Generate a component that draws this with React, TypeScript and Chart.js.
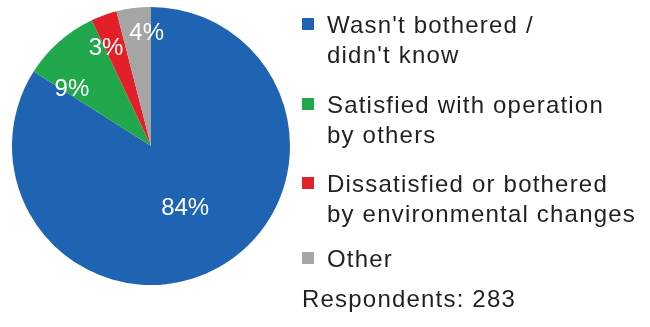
import React, { useEffect, useRef } from "react";
import { Chart, registerables } from "chart.js";

Chart.register(...registerables);

const categories = [
  "Wasn't bothered / didn't know",
  "Satisfied with operation by others",
  "Dissatisfied or bothered by environmental changes",
  "Other",
];
const legendLines = [
  ["Wasn't bothered /", "didn't know"],
  ["Satisfied with operation", "by others"],
  ["Dissatisfied or bothered", "by environmental changes"],
  ["Other"],
];
const values = [84, 9, 3, 4];
const valueLabels = ["84%", "9%", "3%", "4%"];
const footnote = "Respondents: 283";
const colors = ["#1E64B2", "#22A84C", "#E3202A", "#A5A5A5"];

// label placement (fraction of radius, angular shift in degrees)
const labelRadius = [0.51, 0.7, 0.77, 0.81];
const labelShift = [0, -13, -5, 5];

const TEXT_FONT = "24px 'Liberation Sans', Arial, sans-serif";

const labelsPlugin = {
  id: "sliceLabels",
  afterDatasetsDraw(chart: any) {
    const ctx = chart.ctx;
    const meta = chart.getDatasetMeta(0);
    ctx.save();
    ctx.fillStyle = "#FFFFFF";
    ctx.font = "24px 'Liberation Sans', Arial, sans-serif";
    ctx.textAlign = "center";
    ctx.textBaseline = "middle";
    meta.data.forEach((arc: any, i: number) => {
      const p = arc.getProps(["x", "y", "startAngle", "endAngle", "outerRadius"], true);
      const mid = (p.startAngle + p.endAngle) / 2 + (labelShift[i] * Math.PI) / 180;
      const r = p.outerRadius * labelRadius[i];
      ctx.fillText(valueLabels[i], p.x + Math.cos(mid) * r, p.y + Math.sin(mid) * r);
    });
    ctx.restore();
  },
};

const legendPlugin = {
  id: "sideLegend",
  afterDraw(chart: any) {
    const ctx = chart.ctx;
    const ds = chart.data.datasets[0];
    ctx.save();
    ctx.font = TEXT_FONT;
    (ctx as any).letterSpacing = "1.2px";
    ctx.textBaseline = "alphabetic";
    ctx.textAlign = "left";
    const boxX = 302;
    const textX = 327;
    const itemTops = [33, 113, 192, 267];
    const lineGap = 30;
    legendLines.forEach((lines, i) => {
      const base = itemTops[i];
      ctx.fillStyle = ds.backgroundColor[i];
      ctx.fillRect(boxX, base - 15, 12, 12);
      ctx.fillStyle = "#231F20";
      lines.forEach((ln, j) => ctx.fillText(ln, textX, base + j * lineGap));
    });
    ctx.fillStyle = "#231F20";
    ctx.fillText(footnote, 302, 307);
    ctx.restore();
  },
};

export default function App() {
  const ref = useRef<HTMLCanvasElement>(null);
  useEffect(() => {
    if (!ref.current) return;
    const chart = new Chart(ref.current, {
      type: "pie",
      data: {
        labels: categories,
        datasets: [
          {
            data: values,
            backgroundColor: colors,
            borderWidth: 0,
          },
        ],
      },
      options: {
        responsive: false,
        maintainAspectRatio: false,
        animation: false,
        layout: { padding: { left: 12, right: 360, top: 7, bottom: 42 } },
        plugins: {
          legend: { display: false },
          tooltip: { enabled: false },
        },
      },
      plugins: [labelsPlugin, legendPlugin],
    });
    return () => chart.destroy();
  }, []);
  return (
    <div style={{ position: "absolute", left: 0, top: 0, width: 650, height: 327, background: "#fff" }}>
      <canvas ref={ref} width={650} height={327} style={{ width: 650, height: 327 }} />
    </div>
  );
}
